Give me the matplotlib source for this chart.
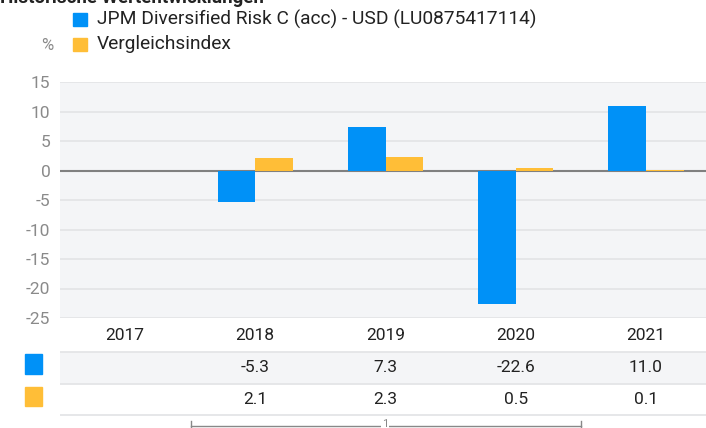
#!/usr/bin/env python3

import matplotlib.pyplot as plt
from matplotlib.patches import Rectangle
from matplotlib.lines import Line2D
import numpy as np

# Données (valeurs en %)
years = ["2017", "2018", "2019", "2020", "2021"]
fund = [np.nan, -5.3, 7.3, -22.6, 11.0]
bench = [np.nan, 2.1, 2.3, 0.5, 0.1]
fund_labels = ["", "-5.3", "7.3", "-22.6", "11.0"]
bench_labels = ["", "2.1", "2.3", "0.5", "0.1"]
fund_name = "JPM Diversified Risk C (acc) - USD (LU0875417114)"
bench_name = "Vergleichsindex"
title = "Historische Wertentwicklungen"

BLUE = "#0091f7"
ORANGE = "#ffbe37"
W, H = 706, 428

plt.rcParams["font.family"] = ["Roboto", "DejaVu Sans"]
plt.rcParams["axes.unicode_minus"] = False
fig = plt.figure(figsize=(W / 100, H / 100), dpi=100)


def box(x0, y0, x1, y1):
    # pixels (origine en haut à gauche) -> fraction de figure
    return [x0 / W, 1 - y1 / H, (x1 - x0) / W, (y1 - y0) / H]


# Graphique en barres
ax = fig.add_axes(box(60, 82, 711, 318))
ax.set_facecolor("#f4f5f7")
x = np.arange(len(years))
w = 0.29
ax.bar(x - w / 2, fund, w, color=BLUE, zorder=3)
ax.bar(x + w / 2, bench, w, color=ORANGE, zorder=3)
ax.axhline(0, color="#808080", lw=1.5, zorder=2.5)
ax.set_xlim(-0.5, len(years) - 0.5)
ax.set_ylim(-25, 15)
ax.set_yticks(range(-25, 20, 5))
ax.set_xticks([])
ax.grid(axis="y", color="#e2e3e5", lw=1.2, zorder=1)
ax.tick_params(axis="y", length=0, pad=7, labelsize=12.5, labelcolor="#8a8a8a")
for s in ax.spines.values():
    s.set_visible(False)

# Tableau sous le graphique
tax = fig.add_axes(box(60, 320, 711, 416), sharex=ax)
tax.set_ylim(0, 3)
tax.axis("off")
tax.axhspan(1, 2, color="#f4f5f7", lw=0)
for yl in [0.02, 1, 2]:
    tax.axhline(yl, color="#e2e3e5", lw=1.2)
for i, yr in enumerate(years):
    tax.text(i, 2.5, yr, ha="center", va="center", fontsize=12.5, color="#222222")
    tax.text(i, 1.5, fund_labels[i], ha="center", va="center", fontsize=12.5, color="#222222")
    tax.text(i, 0.5, bench_labels[i], ha="center", va="center", fontsize=12.5, color="#222222")

fig.patches.append(Rectangle((25 / W, 1 - 374 / H), 17 / W, 20 / H, color=BLUE, transform=fig.transFigure))
fig.patches.append(Rectangle((25 / W, 1 - 406 / H), 17 / W, 19 / H, color=ORANGE, transform=fig.transFigure))

# Légende en haut
fig.patches.append(Rectangle((73 / W, 1 - 26 / H), 14 / W, 13 / H, color=BLUE, transform=fig.transFigure))
fig.patches.append(Rectangle((73 / W, 1 - 51 / H), 14 / W, 13 / H, color=ORANGE, transform=fig.transFigure))
fig.text(97 / W, 1 - 19 / H, fund_name, ha="left", va="center", fontsize=13.8, color="#222222")
fig.text(97 / W, 1 - 44 / H, bench_name, ha="left", va="center", fontsize=13.8, color="#222222")
fig.text(47 / W, 1 - 45 / H, "%", ha="center", va="center", fontsize=12, color="#8a8a8a")
fig.text(0, 1 + 2 / H, title, ha="left", va="center", fontsize=13.5, fontweight="bold", color="#222222")

# Accolade en bas
for seg in [([191, 581], [426, 426]), ([191, 191], [421, 431]), ([581, 581], [421, 431])]:
    fig.add_artist(Line2D([v / W for v in seg[0]], [1 - v / H for v in seg[1]], color="#888888", lw=1))
fig.text(385 / W, 1 - 424 / H, "1", ha="center", va="center", fontsize=8, color="#888888",
         bbox=dict(facecolor="white", edgecolor="none", pad=0.5))

plt.savefig("out.png", dpi=100)
